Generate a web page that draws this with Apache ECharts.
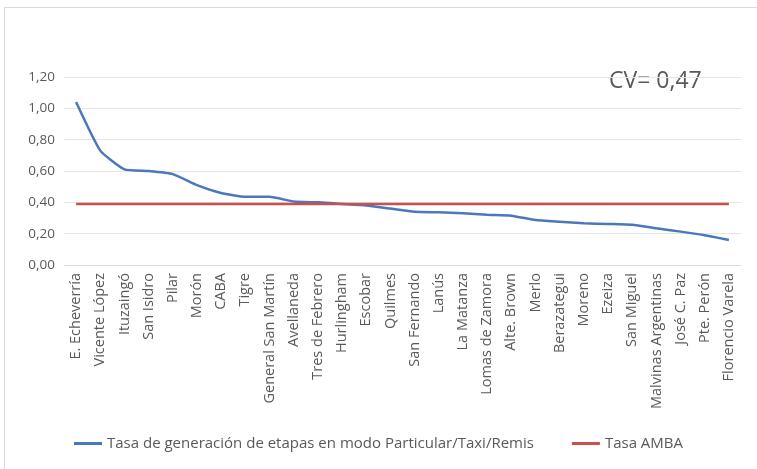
<!DOCTYPE html>
<html><head><meta charset="utf-8">
<script src="https://cdn.jsdelivr.net/npm/echarts@6/dist/echarts.min.js"></script>
<style>html,body{margin:0;padding:0;background:#fff}#c{width:757px;height:469px}</style>
</head><body><div id="c"></div>
<script>
const categories = ["E. Echeverría","Vicente López","Ituzaingó","San Isidro","Pilar","Morón","CABA","Tigre","General San Martín","Avellaneda","Tres de Febrero","Hurlingham","Escobar","Quilmes","San Fernando","Lanús","La Matanza","Lomas de Zamora","Alte. Brown","Merlo","Berazategui","Moreno","Ezeiza","San Miguel","Malvinas Argentinas","José C. Paz","Pte. Perón","Florencio Varela"];
const tasaModo = [1.04,0.73,0.61,0.60,0.58,0.51,0.46,0.435,0.435,0.405,0.40,0.39,0.38,0.36,0.34,0.336,0.33,0.32,0.315,0.287,0.276,0.266,0.262,0.257,0.234,0.213,0.19,0.16];
const tasaAMBA = 0.39;
const amba = categories.map(() => tasaAMBA);
const yTicks = [0, 0.2, 0.4, 0.6, 0.8, 1.0, 1.2];
const seriesNames = ["Tasa de generación de etapas en modo Particular/Taxi/Remis", "Tasa AMBA"];
const cvText = "CV= 0,47";

const font = "Open Sans";
const chart = echarts.init(document.getElementById('c'), null, {renderer: 'canvas'});
chart.setOption({
  backgroundColor: '#fff',
  animation: false,
  graphic: [
    {type: 'rect', shape: {x: 4.5, y: 7.5, width: 760, height: 470}, style: {fill: 'none', stroke: '#d9d9d9', lineWidth: 1}},
    {type: 'text', left: 609, top: 70, style: {text: cvText, font: '23px "Open Sans"', fill: '#595959'}}
  ],
  grid: {left: 64, right: 16, top: 77, bottom: 204, containLabel: false},
  legend: {
    bottom: 13, left: 'center', itemGap: 38, itemWidth: 28, itemHeight: 3,
    icon: 'rect',
    textStyle: {fontFamily: font, fontSize: 15, color: '#595959'},
    data: seriesNames
  },
  xAxis: {
    type: 'category', data: categories, boundaryGap: true,
    axisLine: {show: true, lineStyle: {color: '#d9d9d9'}},
    axisTick: {show: false},
    axisLabel: {rotate: 90, interval: 0, fontFamily: font, fontSize: 14.5, color: '#595959', margin: 8}
  },
  yAxis: {
    type: 'value', min: yTicks[0], max: yTicks[yTicks.length-1], interval: 0.2,
    axisLine: {show: false}, axisTick: {show: false},
    splitLine: {lineStyle: {color: '#e6e6e6', width: 1}},
    axisLabel: {fontFamily: font, fontSize: 13.5, color: '#595959', margin: 9,
      formatter: v => v.toFixed(2).replace('.', ',')}
  },
  series: [
    {name: seriesNames[0], type: 'line', data: tasaModo, symbol: 'none', smooth: 0.15,
     lineStyle: {color: '#4a78bb', width: 2.5}, itemStyle: {color: '#4a78bb'}},
    {name: seriesNames[1], type: 'line', data: amba, symbol: 'none',
     lineStyle: {color: '#c9504e', width: 2.5}, itemStyle: {color: '#c9504e'}}
  ]
});
</script></body></html>
